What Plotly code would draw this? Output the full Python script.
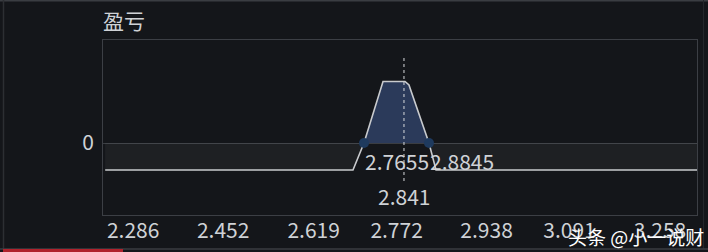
import plotly.graph_objects as go

# ---- data ----
price = [2.2343, 2.6915, 2.7118, 2.7469, 2.7875, 2.7948, 2.8317, 2.8447, 3.3262]
pnl = [-270, -270, 0, 615, 615, 580, 0, -270, -270]
breakeven_x = [2.7118, 2.8317]
breakeven_labels = ["2.7655", "2.8845"]
current_x = 2.7856
current_label = "2.841"
tick_vals = [2.286, 2.452, 2.619, 2.772, 2.938, 3.091, 3.258]
tick_text = ["2.286", "2.452", "2.619", "2.772", "2.938", "3.091", "3.258"]
title_text = "盈亏"
watermark = "头条 @小一说财"

BG = "#14161a"
FONT = "Noto Sans CJK SC"
TXT = "#cfd2d6"

W, H = 708, 252
L, R, T, B = 103, 11, 40, 37
PW, PH = W - L - R, H - T - B


def px(x):
    return (x - L) / PW


def py(y):
    return (H - B - y) / PH


profit_y = [max(v, 0) for v in pnl]
loss_y = [min(v, 0) for v in pnl]

fig = go.Figure()
fig.add_trace(go.Scatter(x=price, y=loss_y, mode="lines", line=dict(width=0),
                         fill="tozeroy", fillcolor="rgba(255,255,255,0.045)",
                         hoverinfo="skip", showlegend=False))
fig.add_trace(go.Scatter(x=price, y=profit_y, mode="lines", line=dict(width=0),
                         fill="tozeroy", fillcolor="#2b3a5a",
                         hoverinfo="skip", showlegend=False))
fig.add_trace(go.Scatter(x=price, y=pnl, mode="lines",
                         line=dict(color="#c9cbce", width=1.6),
                         showlegend=False))
fig.add_trace(go.Scatter(x=breakeven_x, y=[0, 0], mode="markers",
                         marker=dict(color="#1e3a5e", size=10),
                         showlegend=False))
fig.add_trace(go.Scatter(x=[current_x, current_x], y=[850, -410], mode="lines",
                         line=dict(color="#d8dadd", width=1, dash="dot"),
                         showlegend=False))

for bx, bl in zip(breakeven_x, breakeven_labels):
    fig.add_annotation(x=bx, y=-180, text=bl, showarrow=False, xanchor="left",
                       yanchor="middle", xshift=-1,
                       font=dict(family=FONT, size=21, color=TXT))
fig.add_annotation(x=current_x, y=-530, text=current_label, showarrow=False,
                   xanchor="center", yanchor="middle",
                   font=dict(family=FONT, size=21, color=TXT))

fig.add_annotation(x=px(101), y=py(20), xref="paper", yref="paper",
                   text=title_text, showarrow=False, xanchor="left", yanchor="middle",
                   font=dict(family=FONT, size=21, color=TXT))
fig.add_annotation(x=px(706), y=py(236), xref="paper", yref="paper",
                   text=watermark, showarrow=False, xanchor="right", yanchor="middle",
                   font=dict(family=FONT, size=19, color="#ffffff"))

shapes = [
    dict(type="line", xref="paper", yref="paper", x0=px(0), x1=px(W), y0=py(0.75), y1=py(0.75),
         line=dict(color="#3a3d42", width=1.5)),
    dict(type="line", xref="paper", yref="paper", x0=px(3.5), x1=px(3.5), y0=py(249), y1=py(0),
         line=dict(color="#2c2f33", width=1.5)),
    dict(type="line", xref="paper", yref="paper", x0=px(703.5), x1=px(703.5), y0=py(249), y1=py(0),
         line=dict(color="#24272b", width=1)),
    dict(type="line", xref="paper", yref="paper", x0=px(0), x1=px(W), y0=py(249), y1=py(249),
         line=dict(color="#3a3d42", width=1.5)),
    dict(type="line", xref="paper", yref="paper", x0=px(3), x1=px(123), y0=py(250.5), y1=py(250.5),
         line=dict(color="#b0222c", width=3)),
]

fig.update_layout(
    width=W, height=H,
    margin=dict(l=L, r=R, t=T, b=B, autoexpand=False),
    paper_bgcolor=BG, plot_bgcolor=BG,
    shapes=shapes,
    xaxis=dict(range=[2.2303, 3.3262], tickvals=tick_vals, ticktext=tick_text,
               showgrid=False, zeroline=False, showline=True, mirror=True,
               linecolor="#3c3f45", linewidth=1, ticks="", ticklabelstandoff=-3,
               automargin=False,
               tickfont=dict(family=FONT, size=21, color=TXT), fixedrange=True),
    yaxis=dict(range=[-720, 1030], tickvals=[0], ticktext=["0"],
               showgrid=False, zeroline=True, zerolinecolor="#3a3d42", zerolinewidth=1,
               showline=True, mirror=True, linecolor="#3c3f45", linewidth=1,
               ticks="", ticklabelstandoff=4, automargin=False,
               tickfont=dict(family=FONT, size=21, color=TXT), fixedrange=True),
    font=dict(family=FONT),
)

fig.write_html("out.html")
